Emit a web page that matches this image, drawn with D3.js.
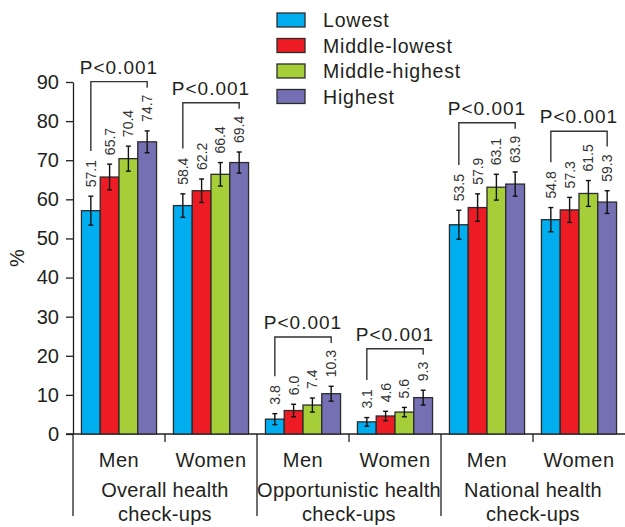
<!DOCTYPE html>
<html>
<head>
<meta charset="utf-8">
<script src="https://cdn.jsdelivr.net/npm/d3@7"></script>
<style>
  body { margin: 0; background: #fff; }
  svg { display: block; font-family: "Liberation Sans", Arial, sans-serif; }
  text { fill: #231f20; }
</style>
</head>
<body>
<div id="viz"></div>
<script>
const categories = [["Overall health", "check-ups"], ["Opportunistic health", "check-ups"], ["National health", "check-ups"]];
const sexes = ["Men", "Women"];
const levels = ["Lowest", "Middle-lowest", "Middle-highest", "Highest"];
const colors = ["#00aeef", "#ed1c24", "#a6ce39", "#7470b3"];

// values per income level, for Overall Men, Overall Women, Opp Men, Opp Women, National Men, National Women
const lowest = [57.1, 58.4, 3.8, 3.1, 53.5, 54.8];
const middleLowest = [65.7, 62.2, 6.0, 4.6, 57.9, 57.3];
const middleHighest = [70.4, 66.4, 7.4, 5.6, 63.1, 61.5];
const highest = [74.7, 69.4, 10.3, 9.3, 63.9, 59.3];

// half width of the 95% CI
const lowestErr = [3.7, 3.0, 1.4, 1.1, 3.7, 3.1];
const middleLowestErr = [3.3, 3.0, 1.6, 1.2, 3.5, 3.2];
const middleHighestErr = [3.2, 3.0, 1.8, 1.2, 3.3, 3.3];
const highestErr = [2.8, 2.7, 1.9, 1.9, 3.1, 2.9];

const pValues = ["P<0.001", "P<0.001", "P<0.001", "P<0.001", "P<0.001", "P<0.001"];
const yTicks = [0, 10, 20, 30, 40, 50, 60, 70, 80, 90];

const width = 625, height = 527;
const plotLeft = 73, plotRight = 625, plotTop = 82, plotBottom = 434;

const series = [lowest, middleLowest, middleHighest, highest];
const seriesErr = [lowestErr, middleLowestErr, middleHighestErr, highestErr];

const groups = [];
categories.forEach((c, ci) => {
  sexes.forEach((s, si) => groups.push({ key: ci + "-" + s, cat: ci, sex: s, idx: groups.length }));
});

const svg = d3.select("#viz").append("svg")
  .attr("width", width)
  .attr("height", height);

const x0 = d3.scaleBand()
  .domain(groups.map(g => g.key))
  .range([plotLeft, plotRight]);

const x1 = d3.scaleBand()
  .domain(levels)
  .range([0, x0.bandwidth()])
  .paddingOuter(0.45);

const xCat = d3.scaleBand()
  .domain(d3.range(categories.length))
  .range([plotLeft, plotRight]);

const y = d3.scaleLinear()
  .domain([0, 90])
  .range([plotBottom, plotTop]);

// y axis
const yAxis = svg.append("g")
  .attr("transform", `translate(${plotLeft},0)`)
  .call(d3.axisLeft(y).tickValues(yTicks).tickSize(7).tickSizeOuter(0).tickPadding(7));
yAxis.selectAll("path, line").attr("stroke", "#231f20").attr("stroke-width", 1.3);
yAxis.selectAll("text")
  .style("font-size", "20px")
  .style("font-family", "'Liberation Sans', Arial, sans-serif")
  .attr("fill", "#231f20");

// y axis runs on down through the category labels
svg.append("line")
  .attr("x1", plotLeft).attr("x2", plotLeft)
  .attr("y1", plotBottom).attr("y2", 516)
  .attr("stroke", "#231f20").attr("stroke-width", 1.3);

svg.append("text")
  .attr("transform", `translate(17,${y(45)}) rotate(-90)`)
  .attr("text-anchor", "middle")
  .attr("dominant-baseline", "central")
  .style("font-size", "20px")
  .text("%");

// x axis line
svg.append("line")
  .attr("x1", plotLeft - 7).attr("x2", plotRight)
  .attr("y1", y(0)).attr("y2", y(0))
  .attr("stroke", "#231f20").attr("stroke-width", 1.3);

// separators between the check-up types
d3.range(1, categories.length).forEach(i => {
  svg.append("line")
    .attr("x1", xCat(i)).attr("x2", xCat(i))
    .attr("y1", y(0)).attr("y2", 516)
    .attr("stroke", "#231f20").attr("stroke-width", 1.3);
});

// small ticks between Men and Women
groups.filter(g => g.sex === "Women").forEach(g => {
  svg.append("line")
    .attr("x1", x0(g.key)).attr("x2", x0(g.key))
    .attr("y1", y(0)).attr("y2", y(0) + 8)
    .attr("stroke", "#231f20").attr("stroke-width", 1.3);
});

svg.selectAll("text.sex")
  .data(groups)
  .join("text")
    .attr("class", "sex")
    .attr("x", g => x0(g.key) + x0.bandwidth() / 2)
    .attr("y", 467)
    .attr("text-anchor", "middle")
    .style("font-size", "20px")
    .style("letter-spacing", "0.5px")
    .text(g => g.sex);

categories.forEach((c, ci) => {
  c.forEach((line, li) => {
    svg.append("text")
      .attr("x", xCat(ci) + xCat.bandwidth() / 2)
      .attr("y", 497 + li * 24)
      .attr("text-anchor", "middle")
      .style("font-size", "20px")
      .style("letter-spacing", "0.3px")
      .text(line);
  });
});

// bars, error bars, value labels
const barData = [];
groups.forEach(g => {
  levels.forEach((lv, li) => {
    barData.push({
      group: g,
      level: lv,
      li: li,
      value: series[li][g.idx],
      err: seriesErr[li][g.idx]
    });
  });
});

const bars = svg.append("g");
bars.selectAll("rect")
  .data(barData)
  .join("rect")
    .attr("x", d => x0(d.group.key) + x1(d.level))
    .attr("y", d => y(d.value))
    .attr("width", x1.bandwidth())
    .attr("height", d => y(0) - y(d.value))
    .attr("fill", d => colors[d.li])
    .attr("stroke", "#2b2b2b")
    .attr("stroke-width", 1.3);

const cx = d => x0(d.group.key) + x1(d.level) + x1.bandwidth() / 2;

const errG = svg.append("g").attr("stroke", "#111").attr("stroke-width", 1.4);
barData.forEach(d => {
  const top = y(d.value + d.err), bot = y(d.value - d.err), c = cx(d);
  errG.append("line").attr("x1", c).attr("x2", c).attr("y1", top).attr("y2", bot);
  errG.append("line").attr("x1", c - 2.5).attr("x2", c + 2.5).attr("y1", top).attr("y2", top);
  errG.append("line").attr("x1", c - 2.5).attr("x2", c + 2.5).attr("y1", bot).attr("y2", bot);
});

const labelGap = 9;
barData.forEach(d => {
  const start = y(d.value + d.err) - labelGap;
  const t = svg.append("text")
    .attr("transform", `translate(${cx(d)},${start}) rotate(-90)`)
    .attr("dominant-baseline", "central")
    .style("font-size", "14px")
    .style("fill", "#333")
    .text(d.value.toFixed(1));
  d.labelTop = start - t.node().getComputedTextLength();
});

// P-value brackets
groups.forEach(g => {
  const gb = barData.filter(d => d.group === g);
  const first = gb[0], last = gb[gb.length - 1];
  const by = d3.min(gb, d => d.labelTop) - 13;
  const leftEnd = first.labelTop - 9;
  const rightEnd = Math.max(last.labelTop - 8, by + 6);
  svg.append("path")
    .attr("d", `M${cx(first)},${leftEnd}V${by}H${cx(last)}V${rightEnd}`)
    .attr("fill", "none")
    .attr("stroke", "#333")
    .attr("stroke-width", 1.4);
  svg.append("text")
    .attr("x", x0(g.key) + x0.bandwidth() / 2)
    .attr("y", by - 8)
    .attr("text-anchor", "middle")
    .style("font-size", "19px")
    .style("letter-spacing", "1px")
    .text(pValues[g.idx]);
});

// legend
const legend = svg.append("g").attr("transform", "translate(277,13)");
levels.forEach((lv, i) => {
  legend.append("rect")
    .attr("x", 0)
    .attr("y", i * 25.5)
    .attr("width", 28)
    .attr("height", 14)
    .attr("fill", colors[i])
    .attr("stroke", "#2b2b2b")
    .attr("stroke-width", 1.3);
  legend.append("text")
    .attr("x", 46)
    .attr("y", i * 25.5 + 14)
    .style("font-size", "19.5px")
    .style("letter-spacing", "0.8px")
    .text(lv);
});
</script>
</body>
</html>
